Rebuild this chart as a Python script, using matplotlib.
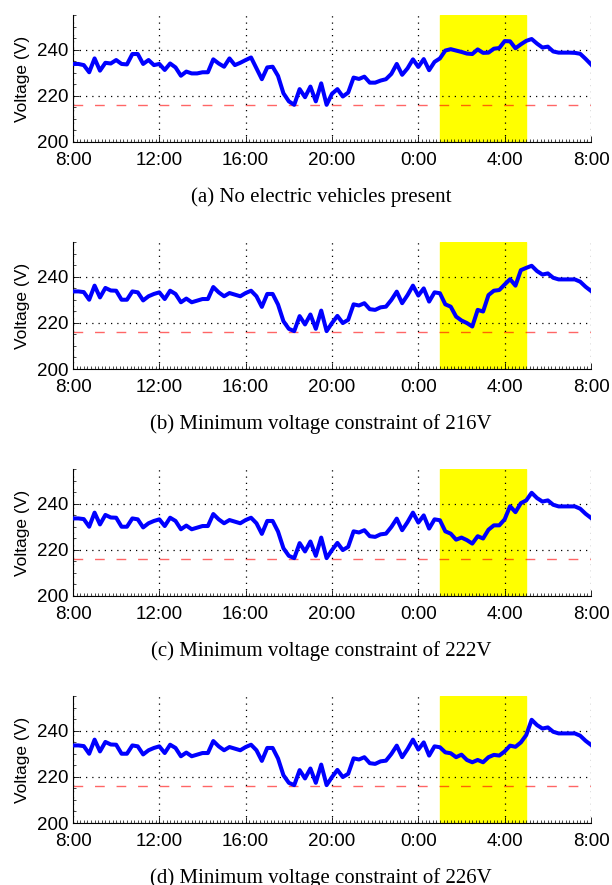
import numpy as np
import matplotlib
matplotlib.use('Agg')
import matplotlib.pyplot as plt
from matplotlib.ticker import MultipleLocator

# voltage readings every 15 min from 8:00 to 8:00 next day (97 points)
v_none = [233.8, 233.8, 233.3, 230.2, 236.2, 230.9, 234.3, 234.0, 235.5, 233.8,
          233.6, 238.1, 238.1, 233.8, 235.5, 233.3, 233.8, 231.2, 234.0, 232.3,
          228.7, 230.5, 229.7, 229.7, 230.2, 230.2, 235.8, 234.0, 232.6, 236.2,
          233.3, 234.3, 235.5, 236.6, 231.9, 227.2, 232.3, 232.6, 228.6, 221.1,
          217.6, 216.1, 222.9, 219.4, 224.0, 217.6, 225.4, 216.1,
          220.9, 222.9, 219.7, 221.4, 227.9, 227.3, 228.3, 225.7, 225.7, 226.6,
          227.2, 229.5, 233.8, 229.1, 231.9, 235.8, 232.5, 235.9, 231.1, 234.7,
          236.2, 239.6, 240.2, 239.6, 239.0, 238.3, 238.1, 240.1, 238.6, 238.7,
          240.4, 240.7, 243.7, 243.6, 240.6, 242.3, 243.8, 244.6, 242.6, 240.9,
          241.3, 239.2, 238.7, 238.7, 238.7, 238.6, 238.2, 236.0, 233.6]

v_216 = [233.6, 233.6, 233.3, 230.0, 236.1, 231.0, 235.1, 234.0, 233.9, 230.0,
         230.0, 233.6, 233.2, 229.7, 231.5, 232.5, 233.2, 230.3, 233.9, 232.5,
         228.9, 230.5, 228.9, 229.6, 230.3, 230.3, 235.5, 233.2, 231.5, 232.9,
         232.2, 231.5, 232.9, 233.9, 231.5, 226.9, 232.5, 232.5, 227.9, 220.7,
         217.4, 216.4, 222.9, 219.3, 223.6, 217.4, 225.3, 216.4,
         219.9, 223.0, 219.9, 221.3, 228.0, 227.5, 228.5, 225.9, 225.6, 226.7,
         227.0, 229.9, 233.5, 228.5, 232.0, 236.1, 231.8, 234.9, 229.2, 233.2,
         232.8, 228.0, 227.0, 222.7, 221.0, 219.9, 218.4, 225.6, 224.9, 232.0,
         233.9, 234.2, 236.6, 238.9, 236.1, 242.8, 243.8, 244.7, 242.4, 240.9,
         241.4, 239.5, 238.8, 238.8, 238.8, 238.8, 237.8, 235.6, 233.8]

# charging window values 1:15 .. 5:00 for the 222V and 226V cases
win_222 = [228.0, 227.0, 224.4, 225.3, 224.2, 222.7, 225.9, 224.9, 228.7, 230.6,
           230.6, 233.2, 238.9, 236.3, 240.2, 241.4]
win_226 = [230.6, 230.2, 228.5, 229.6, 227.3, 226.3, 227.3, 226.3, 228.5, 229.5,
           229.2, 231.0, 233.5, 233.0, 234.9, 238.1]

v_222 = list(v_216)
v_222[69:69 + len(win_222)] = win_222
v_226 = list(v_216)
v_226[69:69 + len(win_226)] = win_226

hours = np.arange(len(v_216)) * 0.25
tick_pos = [0, 4, 8, 12, 16, 20, 24]
tick_labels = ['8:00', '12:00', '16:00', '20:00', '0:00', '4:00', '8:00']
captions = ['(a) No electric vehicles present',
            '(b) Minimum voltage constraint of 216V',
            '(c) Minimum voltage constraint of 222V',
            '(d) Minimum voltage constraint of 226V']
series = [v_none, v_216, v_222, v_226]

plt.rcParams['font.family'] = ['Liberation Sans', 'DejaVu Sans']

fig = plt.figure(figsize=(6.12, 8.85), dpi=100)
W, H = 612.0, 885.0

for i, (vals, cap) in enumerate(zip(series, captions)):
    top = 15 + 227 * i
    ax = fig.add_axes([73 / W, 1 - (top + 127) / H, 518 / W, 127 / H])
    ax.axvspan(17, 21, color='yellow', zorder=0)
    ax.axhline(216, color='red', alpha=0.6, lw=1.0, dashes=(7, 8.5), zorder=2)
    ax.plot(hours, vals, color='blue', lw=2.9, zorder=3)
    ax.set_xlim(0, 24)
    ax.set_ylim(200, 255)
    ax.set_xticks(tick_pos)
    ax.set_xticklabels(tick_labels)
    ax.set_yticks([200, 220, 240])
    ax.xaxis.set_minor_locator(MultipleLocator(1 / 6))
    ax.yaxis.set_minor_locator(MultipleLocator(5))
    ax.tick_params(which='both', direction='in', top=False, right=False,
                   labelsize=13.5)
    ax.tick_params(which='major', length=4, width=0.6)
    ax.tick_params(which='minor', length=2, width=0.5)
    ax.tick_params(axis='y', pad=3)
    ax.tick_params(axis='x', pad=7)
    ax.grid(True, which='major', linestyle=(0, (1, 4)), color='k', lw=0.9)
    ax.set_axisbelow(False)
    for s in ['top', 'right']:
        ax.spines[s].set_visible(False)
    for s in ['left', 'bottom']:
        ax.spines[s].set_linewidth(0.8)
    ax.set_ylabel('Voltage (V)', fontsize=12.5, labelpad=5)
    fig.text(321 / W, 1 - (top + 182) / H, cap, ha='center', va='center',
             fontsize=15, family='Liberation Serif')

fig.savefig('out.png', dpi=100)
